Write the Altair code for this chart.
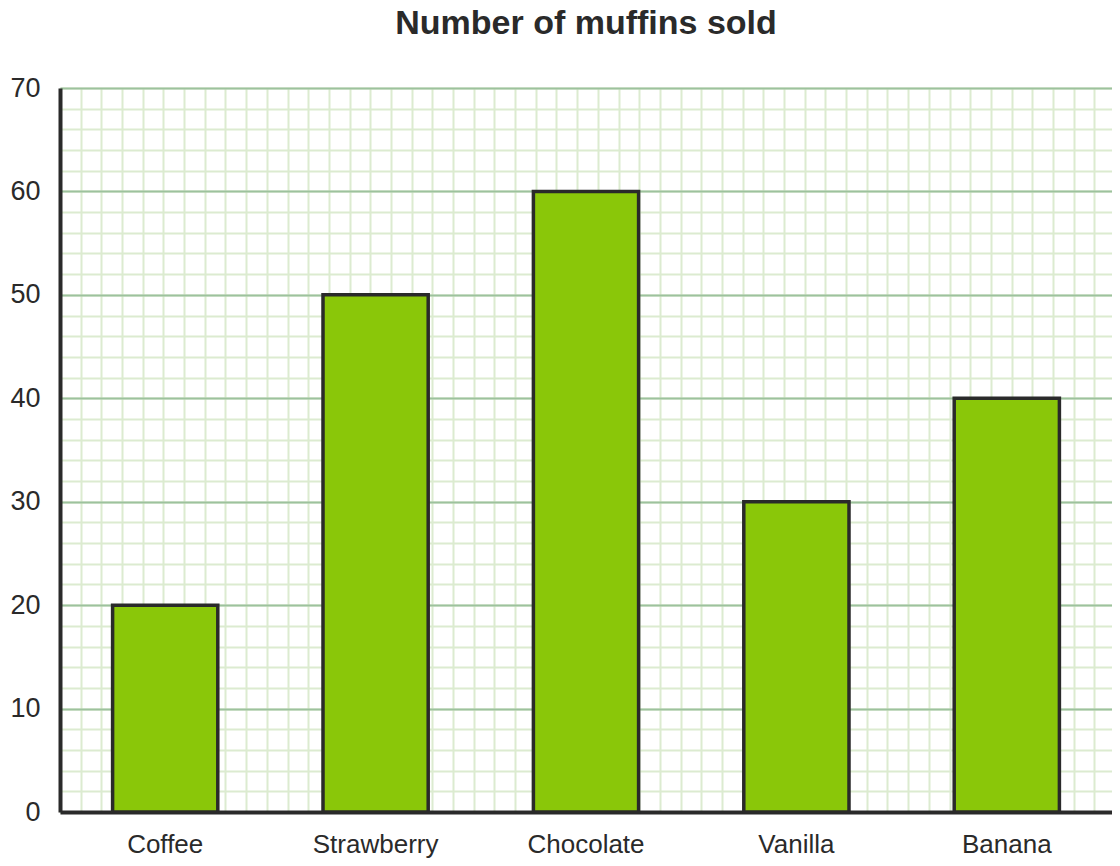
import altair as alt
import pandas as pd

flavors = ["Coffee", "Strawberry", "Chocolate", "Vanilla", "Banana"]
sold = [20, 50, 60, 30, 40]

major_ticks = [0, 10, 20, 30, 40, 50, 60, 70]
minor_y_ticks = list(range(0, 71, 2))
minor_x_ticks = list(range(0, 102, 2))

df = pd.DataFrame({"flavor": flavors, "sold": sold})

FONT = "Liberation Sans"
MINOR = "#dcebd0"
MAJOR = "#9dc29d"
DARK = "#2a2a2a"

yscale = alt.Scale(domain=[0, 70], nice=False, zero=True)

grid = alt.Chart(df).mark_point(opacity=0).encode(
    x=alt.X("sold:Q",
            scale=alt.Scale(domain=[0, 101.71], nice=False, zero=False),
            axis=alt.Axis(orient="top", grid=True, values=minor_x_ticks,
                          labels=False, ticks=False, domain=False, title=None,
                          gridColor=MINOR, gridWidth=2, gridOpacity=1)),
    y=alt.Y("sold:Q", scale=yscale,
            axis=alt.Axis(orient="right", grid=True, values=minor_y_ticks,
                          labels=False, ticks=False, domain=False, title=None,
                          gridColor=MINOR, gridWidth=2, gridOpacity=1)),
)

bars = alt.Chart(df).mark_bar(color="#8ac709", stroke=DARK, strokeWidth=3.5).encode(
    x=alt.X("flavor:N", sort=flavors,
            scale=alt.Scale(paddingInner=0.5, paddingOuter=0.25),
            axis=alt.Axis(orient="bottom", title=None, labelAngle=0,
                          ticks=False, tickSize=0, grid=False,
                          domain=True, domainColor=DARK, domainWidth=4,
                          labelFont=FONT, labelFontSize=26, labelColor=DARK,
                          labelPadding=19)),
    y=alt.Y("sold:Q", scale=yscale,
            axis=alt.Axis(orient="left", title=None, values=major_ticks,
                          ticks=False, tickSize=0, grid=True,
                          gridColor=MAJOR, gridWidth=2, gridOpacity=1,
                          domain=True, domainColor=DARK, domainWidth=4,
                          labelFont=FONT, labelFontSize=27, labelColor=DARK,
                          labelPadding=20)),
)

chart = alt.layer(grid, bars).resolve_scale(x="independent").resolve_axis(
    x="independent", y="independent"
).properties(
    width=1052,
    height=724,
    title=alt.TitleParams("Number of muffins sold", font=FONT, fontSize=34,
                          fontWeight="bold", color=DARK, anchor="middle",
                          offset=33),
    autosize=alt.AutoSizeParams(type="none"),
    padding={"left": 52, "top": 80, "right": 0, "bottom": 46},
).configure_view(stroke=None)

chart.save("out.html", embed_options={"renderer": "svg", "actions": False})
